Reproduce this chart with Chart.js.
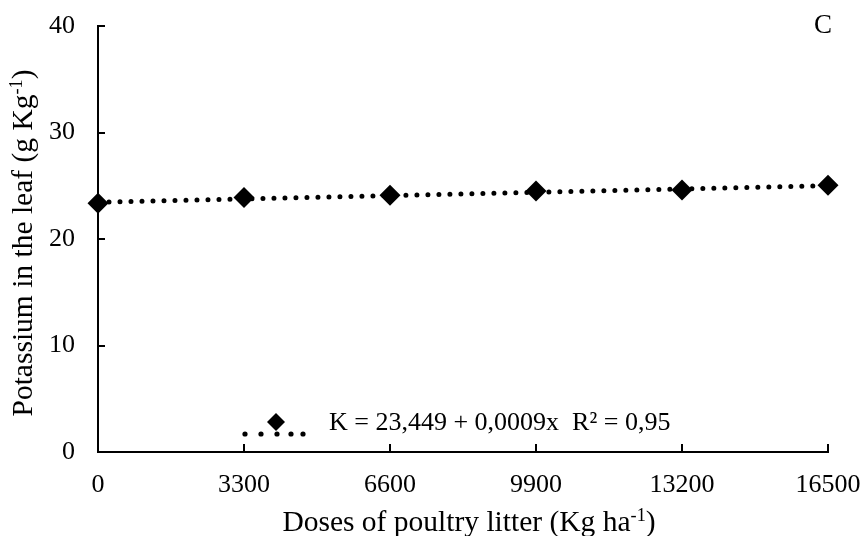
<!DOCTYPE html>
<html lang="en">
  <head>
    <meta charset="UTF-8" />
    <title>Potassium in the leaf</title>
    <script src="https://cdn.jsdelivr.net/npm/chart.js@4.4.1/dist/chart.umd.min.js"></script>
    <style>
      html, body { margin: 0; padding: 0; background: #fff; }
      #wrap { width: 863px; height: 536px; }
    </style>
  </head>
  <body>
    <div id="wrap"><canvas id="myChart" width="863" height="536"></canvas></div>

    <script>
      // values
      const doses = [0, 3300, 6600, 9900, 13200, 16500];
      const potassium = [23.35, 23.9, 24.1, 24.5, 24.6, 25.05];
      const trendX = [0, 16500];
      const trendY = [23.45, 25.0];
      const yTicks = [0, 10, 20, 30, 40];
      const xTicks = [0, 3300, 6600, 9900, 13200, 16500];

      const FONT = '"Liberation Serif", "Times New Roman", serif';
      const FS = 26;
      const TITLE_FS = 29.5;

      // text with superscript parts, e.g. "ha" + "-1"
      function drawRich(ctx, parts, size) {
        let w = 0;
        parts.forEach(p => {
          ctx.font = (p.sup ? size * 0.62 : size) + 'px ' + FONT;
          p.w = ctx.measureText(p.t).width;
          w += p.w;
        });
        let x = -w / 2;
        parts.forEach(p => {
          ctx.font = (p.sup ? size * 0.62 : size) + 'px ' + FONT;
          ctx.fillText(p.t, x, p.sup ? -size * 0.33 : 0);
          x += p.w;
        });
      }

      const extras = {
        id: 'extras',
        afterDraw(chart) {
          const ctx = chart.ctx;
          const xs = chart.scales.x, ys = chart.scales.y;
          ctx.save();
          // inward tick marks
          ctx.strokeStyle = '#000';
          ctx.lineWidth = 2;
          ctx.beginPath();
          yTicks.forEach(v => {
            const py = Math.round(ys.getPixelForValue(v));
            ctx.moveTo(xs.left, py);
            ctx.lineTo(xs.left + 7, py);
          });
          xTicks.forEach(v => {
            const px = Math.round(xs.getPixelForValue(v));
            ctx.moveTo(px, ys.bottom);
            ctx.lineTo(px, ys.bottom - 8);
          });
          ctx.stroke();

          ctx.fillStyle = '#000';
          ctx.textBaseline = 'alphabetic';

          // axis titles
          ctx.save();
          ctx.translate(469, 531);
          drawRich(ctx, [{ t: 'Doses of poultry litter (Kg ha' }, { t: '-1', sup: true }, { t: ')' }], TITLE_FS);
          ctx.restore();

          ctx.save();
          ctx.translate(32, 243);
          ctx.rotate(-Math.PI / 2);
          drawRich(ctx, [{ t: 'Potassium in the leaf (g Kg' }, { t: '-1', sup: true }, { t: ')' }], TITLE_FS);
          ctx.restore();

          ctx.textBaseline = 'middle';
          // panel letter
          ctx.font = '27px ' + FONT;
          ctx.textAlign = 'center';
          ctx.fillText('C', 823, 26);

          // legend: marker + dotted trend sample + equation
          [245, 261, 277, 291, 303].forEach(px => {
            ctx.beginPath();
            ctx.arc(px, 434, 2.6, 0, Math.PI * 2);
            ctx.fill();
          });
          ctx.beginPath();
          ctx.moveTo(276, 413);
          ctx.lineTo(285, 422);
          ctx.lineTo(276, 431);
          ctx.lineTo(267, 422);
          ctx.closePath();
          ctx.fill();
          ctx.font = FS + 'px ' + FONT;
          ctx.textAlign = 'left';
          ctx.fillText('K = 23,449 + 0,0009x  R\u00B2 = 0,95', 329, 423);
          ctx.restore();
        }
      };

      window.addEventListener('load', setup);

      function setup() {
        const ctx = document.getElementById('myChart').getContext('2d');
        const myChart = new Chart(ctx, {
          type: 'scatter',
          data: {
            datasets: [
              {
                label: 'K',
                data: doses.map((d, i) => ({ x: d, y: potassium[i] })),
                pointStyle: 'rectRot',
                pointRadius: 10.5,
                pointBackgroundColor: '#000',
                pointBorderWidth: 0,
                showLine: false,
                clip: false
              },
              {
                label: 'trend',
                data: trendX.map((d, i) => ({ x: d, y: trendY[i] })),
                showLine: true,
                pointRadius: 0,
                borderColor: '#000',
                borderWidth: 5,
                borderDash: [0, 11],
                borderCapStyle: 'round',
                clip: false
              }
            ]
          },
          options: {
            responsive: false,
            animation: false,
            events: [],
            layout: { padding: { left: 0, top: 26, right: 35, bottom: 0 } },
            plugins: { legend: { display: false }, tooltip: { enabled: false } },
            scales: {
              x: {
                type: 'linear',
                min: 0,
                max: 16500,
                afterBuildTicks: s => { s.ticks = xTicks.map(v => ({ value: v })); },
                afterFit: s => { s.height = 84; s.paddingLeft = 0; s.paddingRight = 0; },
                grid: { display: false, drawTicks: false },
                border: { display: true, color: '#000', width: 2 },
                ticks: {
                  color: '#000', font: { family: FONT, size: FS }, padding: 18, maxRotation: 0,
                  callback: v => String(v)
                }
              },
              y: {
                min: 0,
                max: 40,
                afterBuildTicks: s => { s.ticks = yTicks.map(v => ({ value: v })); },
                afterFit: s => { s.width = 98; s.paddingTop = 0; s.paddingBottom = 0; },
                grid: { display: false, drawTicks: false },
                border: { display: true, color: '#000', width: 2 },
                ticks: { color: '#000', font: { family: FONT, size: FS }, padding: 23 }
              }
            }
          },
          plugins: [extras]
        });
      }
    </script>
  </body>
</html>
